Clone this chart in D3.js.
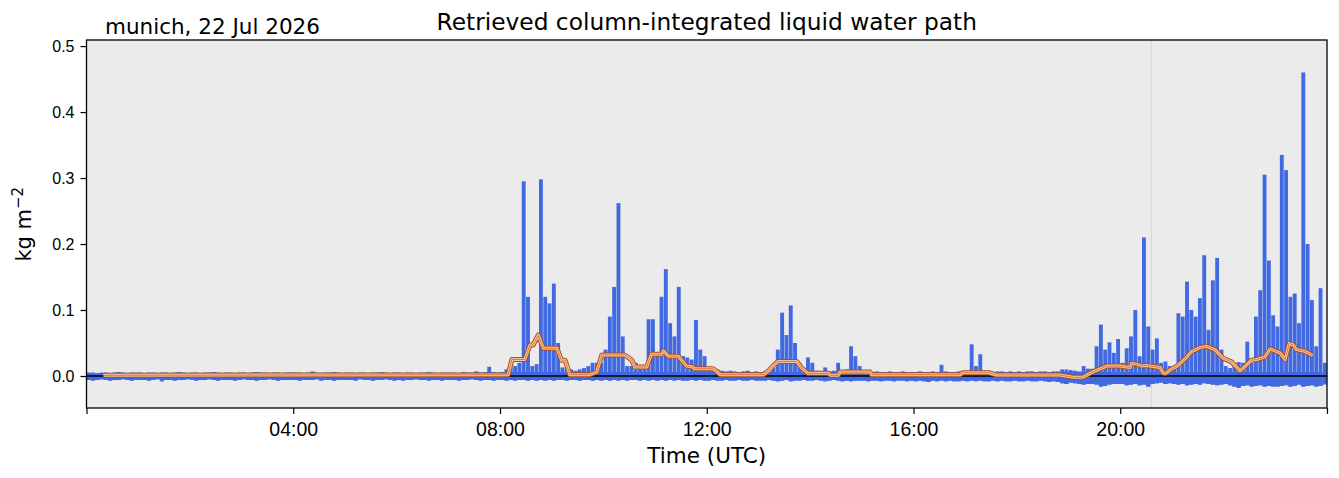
<!DOCTYPE html>
<html>
<head>
<meta charset="utf-8">
<script src="https://cdn.jsdelivr.net/npm/d3@7"></script>
<style>
  body { margin: 0; background: #fff; }
  svg { font-family: "DejaVu Sans", sans-serif; }
</style>
</head>
<body>
<div id="chart"></div>
<script>
// 5-minute bins, upper and lower envelope of the retrieved LWP (kg m-2), one row per hour
var lwpHigh = [
  0.005,0.005,0.004,0.005,0.005,0.004,0.005,0.006,0.005,0.004,0.005,0.005,
  0.005,0.004,0.005,0.005,0.004,0.005,0.005,0.004,0.005,0.006,0.005,0.004,
  0.005,0.005,0.004,0.005,0.005,0.006,0.005,0.004,0.005,0.005,0.004,0.005,
  0.005,0.004,0.005,0.006,0.005,0.005,0.004,0.005,0.005,0.004,0.005,0.005,
  0.005,0.005,0.004,0.005,0.007,0.005,0.004,0.005,0.005,0.006,0.005,0.004,
  0.005,0.005,0.004,0.005,0.005,0.004,0.005,0.005,0.006,0.005,0.004,0.005,
  0.005,0.004,0.005,0.005,0.004,0.005,0.005,0.006,0.005,0.004,0.005,0.005,
  0.005,0.005,0.004,0.006,0.005,0.005,0.007,0.005,0.006,0.014,0.006,0.005,
  0.006,0.010,0.012,0.015,0.020,0.295,0.120,0.015,0.018,0.298,0.120,0.110,
  0.140,0.050,0.013,0.012,0.010,0.008,0.010,0.012,0.015,0.020,0.020,0.020,
  0.040,0.090,0.135,0.262,0.060,0.015,0.015,0.020,0.015,0.012,0.086,0.086,
  0.035,0.120,0.162,0.080,0.060,0.135,0.030,0.028,0.025,0.085,0.040,0.030,
  0.012,0.012,0.010,0.008,0.007,0.008,0.007,0.006,0.007,0.008,0.006,0.007,
  0.006,0.007,0.008,0.012,0.040,0.096,0.062,0.107,0.050,0.020,0.012,0.028,
  0.020,0.008,0.007,0.013,0.007,0.008,0.020,0.008,0.010,0.045,0.030,0.015,
  0.007,0.006,0.006,0.007,0.006,0.006,0.007,0.006,0.006,0.007,0.006,0.006,
  0.006,0.007,0.006,0.006,0.007,0.006,0.017,0.007,0.006,0.006,0.007,0.006,
  0.007,0.048,0.015,0.033,0.008,0.007,0.006,0.007,0.007,0.006,0.007,0.006,
  0.007,0.006,0.007,0.007,0.006,0.007,0.007,0.006,0.007,0.007,0.010,0.010,
  0.009,0.008,0.007,0.015,0.011,0.011,0.045,0.078,0.040,0.051,0.035,0.056,
  0.020,0.042,0.060,0.100,0.030,0.210,0.075,0.040,0.057,0.020,0.022,0.015,
  0.015,0.095,0.090,0.143,0.100,0.090,0.118,0.183,0.070,0.145,0.179,0.040,
  0.015,0.012,0.020,0.021,0.020,0.052,0.020,0.090,0.130,0.305,0.175,0.092,
  0.075,0.335,0.312,0.120,0.125,0.080,0.460,0.200,0.115,0.045,0.133,0.020
];
var lwpLow = [
  -0.006,-0.007,-0.006,-0.005,-0.006,-0.007,-0.006,-0.006,-0.005,-0.006,-0.007,-0.006,
  -0.006,-0.006,-0.007,-0.006,-0.005,-0.008,-0.006,-0.006,-0.007,-0.006,-0.006,-0.005,
  -0.006,-0.007,-0.006,-0.006,-0.005,-0.006,-0.007,-0.006,-0.006,-0.006,-0.007,-0.006,
  -0.005,-0.006,-0.006,-0.007,-0.006,-0.006,-0.005,-0.006,-0.007,-0.006,-0.006,-0.006,
  -0.006,-0.007,-0.006,-0.006,-0.006,-0.005,-0.007,-0.006,-0.006,-0.007,-0.006,-0.006,
  -0.006,-0.006,-0.007,-0.005,-0.006,-0.006,-0.007,-0.006,-0.006,-0.005,-0.006,-0.007,
  -0.006,-0.007,-0.006,-0.006,-0.005,-0.006,-0.006,-0.007,-0.006,-0.006,-0.007,-0.006,
  -0.006,-0.006,-0.007,-0.006,-0.006,-0.005,-0.006,-0.007,-0.006,-0.006,-0.007,-0.006,
  -0.006,-0.007,-0.006,-0.007,-0.006,-0.006,-0.007,-0.006,-0.007,-0.006,-0.007,-0.006,
  -0.007,-0.006,-0.006,-0.007,-0.006,-0.006,-0.007,-0.006,-0.006,-0.007,-0.006,-0.007,
  -0.006,-0.007,-0.006,-0.007,-0.006,-0.007,-0.006,-0.006,-0.007,-0.006,-0.007,-0.006,
  -0.007,-0.006,-0.007,-0.006,-0.007,-0.006,-0.007,-0.007,-0.006,-0.007,-0.006,-0.007,
  -0.007,-0.006,-0.007,-0.007,-0.006,-0.007,-0.007,-0.006,-0.007,-0.007,-0.006,-0.007,
  -0.007,-0.007,-0.006,-0.007,-0.008,-0.007,-0.006,-0.008,-0.007,-0.007,-0.006,-0.007,
  -0.007,-0.006,-0.007,-0.008,-0.007,-0.006,-0.007,-0.008,-0.007,-0.008,-0.007,-0.007,
  -0.007,-0.008,-0.007,-0.007,-0.008,-0.007,-0.007,-0.008,-0.007,-0.007,-0.008,-0.007,
  -0.008,-0.007,-0.008,-0.009,-0.007,-0.008,-0.007,-0.008,-0.007,-0.008,-0.008,-0.007,
  -0.008,-0.007,-0.008,-0.007,-0.008,-0.008,-0.007,-0.008,-0.007,-0.008,-0.008,-0.007,
  -0.008,-0.008,-0.007,-0.008,-0.008,-0.007,-0.008,-0.009,-0.008,-0.009,-0.011,-0.012,
  -0.010,-0.011,-0.012,-0.013,-0.012,-0.012,-0.013,-0.016,-0.015,-0.013,-0.012,-0.012,
  -0.012,-0.014,-0.013,-0.012,-0.014,-0.013,-0.016,-0.012,-0.011,-0.010,-0.012,-0.011,
  -0.012,-0.013,-0.012,-0.014,-0.013,-0.012,-0.013,-0.011,-0.012,-0.013,-0.014,-0.013,
  -0.012,-0.014,-0.016,-0.018,-0.015,-0.014,-0.016,-0.015,-0.014,-0.016,-0.015,-0.016,
  -0.016,-0.015,-0.014,-0.016,-0.015,-0.013,-0.016,-0.015,-0.014,-0.016,-0.015,-0.013
];
// running mean [hour UTC, kg m-2]
var runningMean = [
  [0.33,0.001],[8.16,0.002],[8.23,0.025],[8.48,0.025],[8.58,0.047],[8.64,0.047],
  [8.74,0.062],[8.84,0.042],[9.10,0.042],[9.19,0.024],[9.26,0.024],[9.35,0.002],
  [9.74,0.002],[9.87,0.006],[9.97,0.032],[10.39,0.032],[10.45,0.030],[10.55,0.024],
  [10.61,0.0136],[10.84,0.0136],[10.93,0.033],[11.13,0.033],[11.16,0.038],[11.26,0.030],
  [11.45,0.030],[11.61,0.015],[11.71,0.014],[11.77,0.011],[12.12,0.011],[12.18,0.0076],
  [12.26,0.002],[13.10,0.002],[13.20,0.008],[13.28,0.015],[13.38,0.022],[13.74,0.022],
  [13.84,0.012],[13.96,0.004],[14.35,0.004],[14.40,0.001],[14.54,0.001],[14.58,0.006],
  [15.16,0.006],[15.19,0.002],[16.90,0.002],[16.96,0.005],[17.45,0.005],[17.61,0.0016],
  [18.83,0.0015],[19.09,-0.002],[19.28,-0.002],[19.41,0.004],[19.54,0.0085],[19.74,0.015],
  [19.99,0.015],[20.19,0.013],[20.22,0.019],[20.32,0.018],[20.42,0.015],[20.51,0.016],
  [20.77,0.013],[20.83,0.0046],[20.88,0.004],[20.96,0.009],[21.12,0.016],[21.28,0.028],
  [21.38,0.037],[21.54,0.043],[21.67,0.045],[21.83,0.040],[21.99,0.027],[22.16,0.021],
  [22.32,0.008],[22.38,0.012],[22.54,0.024],[22.64,0.025],[22.80,0.029],[22.90,0.041],
  [23.09,0.035],[23.19,0.025],[23.27,0.0495],[23.35,0.047],[23.41,0.040],[23.54,0.038],
  [23.61,0.036],[23.72,0.031]
];
var yTicks = [0.0, 0.1, 0.2, 0.3, 0.4, 0.5];
var xTicks = [0, 4, 8, 12, 16, 20, 24];
var markerHour = 20.6;   // thin grey vertical line

var W = 1339, H = 478;
var margin = {top: 40, right: 12, bottom: 70, left: 86.5};
var binHours = 5 / 60;
var yMin = -0.0485, yMax = 0.5092;

var svg = d3.select("#chart").append("svg")
    .attr("width", W)
    .attr("height", H);

var x = d3.scaleLinear().domain([0, 24]).range([margin.left, W - margin.right]);
var y = d3.scaleLinear().domain([yMin, yMax]).range([H - margin.bottom, margin.top]);

// plot background
svg.append("rect")
    .attr("x", x(0)).attr("y", y(yMax))
    .attr("width", x(24) - x(0)).attr("height", y(yMin) - y(yMax))
    .attr("fill", "#ebebeb");

svg.append("line")
    .attr("x1", x(markerHour)).attr("x2", x(markerHour))
    .attr("y1", y(yMax)).attr("y2", y(yMin))
    .attr("stroke", "#d4d4d4").attr("stroke-width", 1);

// low band under the columns so the baseline stays continuous
svg.append("path")
    .datum(lwpHigh)
    .attr("d", d3.area()
      .curve(d3.curveStepAfter)
      .x(function(d, i) { return x(i * binHours); })
      .y0(function(d, i) { return y(lwpLow[i]); })
      .y1(function(d) { return y(Math.min(d, 0.006)); }))
    .attr("fill", "#4169e1");

// LWP envelope per bin
var colW = (x(binHours) - x(0)) * 0.9;
svg.append("g").selectAll("rect")
  .data(lwpHigh)
  .join("rect")
    .attr("x", function(d, i) { return x((i + 0.5) * binHours) - colW / 2; })
    .attr("width", colW)
    .attr("y", function(d) { return y(d); })
    .attr("height", function(d, i) { return y(lwpLow[i]) - y(d); })
    .attr("fill", "#4169e1");

// zero line
svg.append("line")
    .attr("x1", x(0)).attr("x2", x(24))
    .attr("y1", y(0)).attr("y2", y(0))
    .attr("stroke", "#000").attr("stroke-width", 1.4);

// running mean, outlined
var meanLine = d3.line()
    .x(function(d) { return x(d[0]); })
    .y(function(d) { return y(d[1]); });
[["#a94e1c", 5], ["#f3c4a0", 3], ["#e0793a", 1]].forEach(function(s) {
  svg.append("path")
      .datum(runningMean)
      .attr("d", meanLine)
      .attr("fill", "none")
      .attr("stroke", s[0])
      .attr("stroke-width", s[1])
      .attr("stroke-linejoin", "round");
});

// axes
var xAxis = svg.append("g")
    .attr("transform", "translate(0," + y(yMin) + ")")
    .call(d3.axisBottom(x).tickValues(xTicks).tickSize(6).tickPadding(8)
      .tickFormat(function(d) { return (d === 0 || d === 24) ? "" : d3.format("02d")(d) + ":00"; }));
xAxis.selectAll("text").attr("font-size", 19.5).attr("fill", "#000");

var yAxis = svg.append("g")
    .attr("transform", "translate(" + x(0) + ",0)")
    .call(d3.axisLeft(y).tickValues(yTicks).tickSize(6).tickPadding(6).tickFormat(d3.format(".1f")));
yAxis.selectAll("text").attr("font-size", 16).attr("fill", "#000");

svg.selectAll(".domain").remove();
svg.selectAll(".tick line").attr("stroke", "#000").attr("stroke-width", 1.2);

// frame
svg.append("rect")
    .attr("x", x(0)).attr("y", y(yMax))
    .attr("width", x(24) - x(0)).attr("height", y(yMin) - y(yMax))
    .attr("fill", "none").attr("stroke", "#000").attr("stroke-width", 1.3);

// texts
svg.append("text")
    .attr("x", (x(0) + x(24)) / 2).attr("y", 30)
    .attr("text-anchor", "middle").attr("font-size", 23.3)
    .text("Retrieved column-integrated liquid water path");

svg.append("text")
    .attr("x", 105).attr("y", 34)
    .attr("font-size", 21.5)
    .text("munich, 22 Jul 2026");

svg.append("text")
    .attr("x", (x(0) + x(24)) / 2).attr("y", 463)
    .attr("text-anchor", "middle").attr("font-size", 21.5)
    .text("Time (UTC)");

var yl = svg.append("text")
    .attr("transform", "translate(31," + y(0.23) + ") rotate(-90)")
    .attr("text-anchor", "middle").attr("font-size", 21);
yl.append("tspan").text("kg m");
yl.append("tspan").attr("font-size", 15).attr("dy", -8).text("\u22122");
</script>
</body>
</html>
